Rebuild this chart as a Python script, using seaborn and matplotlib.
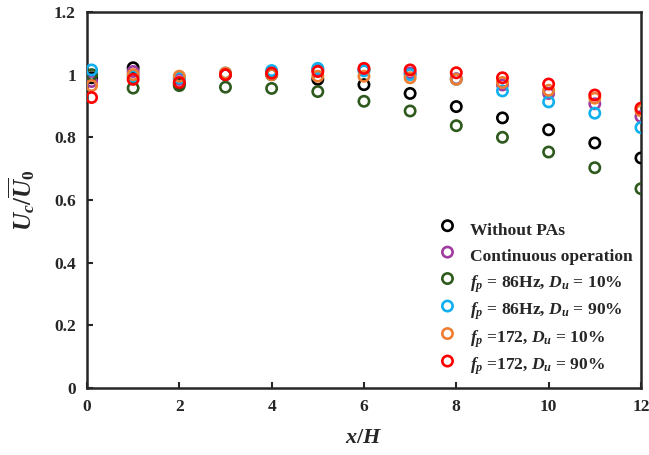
import numpy as np
import pandas as pd
import seaborn as sns
import matplotlib.pyplot as plt

x_h = [0.1, 1, 2, 3, 4, 5, 6, 7, 8, 9, 10, 11, 12]

without_pas = [0.99, 1.022, 0.972, 1.0, 1.0, 0.985, 0.968, 0.94, 0.898, 0.862, 0.824, 0.782, 0.734]
continuous = [0.978, 1.01, 0.985, 1.0, 1.005, 1.015, 1.015, 1.005, 0.987, 0.967, 0.94, 0.907, 0.866]
f86_d10 = [1.0, 0.957, 0.965, 0.96, 0.956, 0.946, 0.915, 0.884, 0.837, 0.80, 0.753, 0.703, 0.636]
f86_d90 = [1.015, 0.995, 0.99, 1.005, 1.013, 1.02, 1.012, 1.0, 0.985, 0.948, 0.913, 0.877, 0.831]
f172_d10 = [0.965, 1.0, 0.995, 1.005, 1.0, 0.995, 0.995, 0.99, 0.985, 0.975, 0.95, 0.925, 0.885]
f172_d90 = [0.927, 0.985, 0.975, 1.0, 1.005, 1.01, 1.02, 1.015, 1.006, 0.99, 0.97, 0.935, 0.893]

labels = ['Without PAs', 'Continuous operation',
          r'$f_p$ = 86Hz, $D_u$ = 10%', r'$f_p$ = 86Hz, $D_u$ = 90%',
          r'$f_p$ =172, $D_u$ = 10%', r'$f_p$ =172, $D_u$ = 90%']
series = [without_pas, continuous, f86_d10, f86_d90, f172_d10, f172_d90]
colors = ['#000000', '#a03ca0', '#2f5a1e', '#10b0ee', '#ee7d31', '#ff0000']

sns.set_style('ticks')
plt.rcParams['font.family'] = ['Liberation Serif', 'DejaVu Serif']
plt.rcParams['font.weight'] = 'bold'
plt.rcParams['mathtext.fontset'] = 'custom'
plt.rcParams['mathtext.rm'] = 'Liberation Serif:bold'
plt.rcParams['mathtext.it'] = 'Liberation Serif:italic:bold'
plt.rcParams['mathtext.bf'] = 'Liberation Serif:bold'

fig = plt.figure(figsize=(6.49, 4.55), dpi=100)
ax = fig.add_axes([0.134, 0.1473, 0.8536, 0.8264])

for lab, ys, c in zip(labels, series, colors):
    df = pd.DataFrame({'x': x_h, 'y': ys})
    sns.scatterplot(data=df, x='x', y='y', ax=ax, s=55, facecolors='none',
                    edgecolors=c, linewidth=1.9, label=lab, zorder=3)

ax.set_xlim(0, 12)
ax.set_ylim(0, 1.2)
ax.set_xticks(range(0, 13, 2))
ax.set_yticks([0, 0.2, 0.4, 0.6, 0.8, 1.0, 1.2])
ax.set_yticklabels(['0', '0.2', '0.4', '0.6', '0.8', '1', '1.2'])
ax.tick_params(direction='in', length=4, width=1.5, labelsize=12.5, pad=8)
for s in ax.spines.values():
    s.set_linewidth(1.8)
for t in ax.get_xticklabels() + ax.get_yticklabels():
    t.set_fontweight('bold')

ax.set_xlabel(r'$x/H$', fontsize=16, labelpad=10)
ax.set_ylabel(r'$U_c/\overline{U}_0$', fontsize=18, labelpad=12)

# handleheight keeps the rows evenly spaced whether or not they hold subscripts
leg = ax.legend(loc='lower right', frameon=False, fontsize=12.6, handletextpad=0.3,
                handleheight=1.73, labelspacing=0.14, borderpad=0, borderaxespad=0,
                bbox_to_anchor=(0.9856, 0.028))
for t in leg.get_texts():
    t.set_fontweight('bold')

fig.savefig('out.png', dpi=100)
